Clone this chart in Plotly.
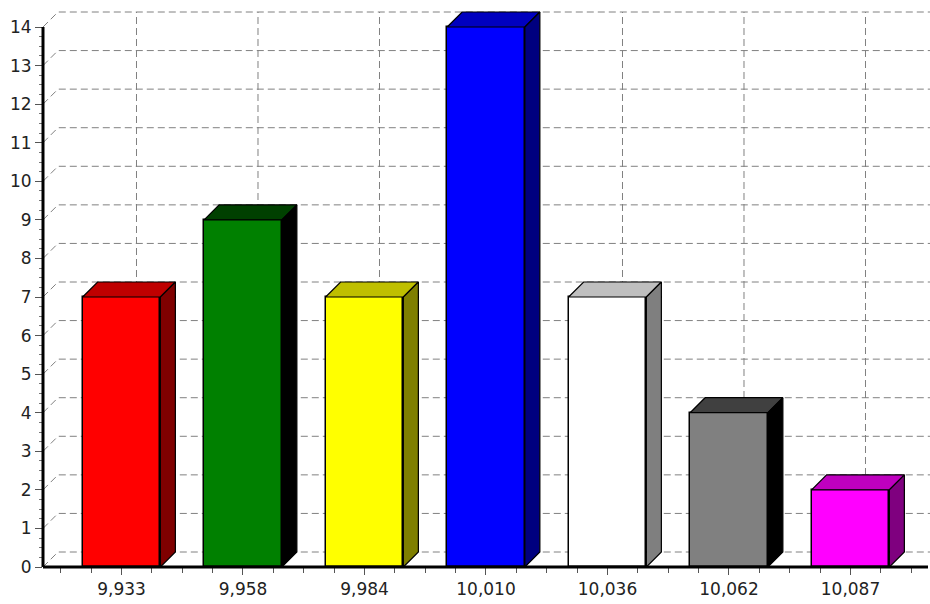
import plotly.graph_objects as go

# ---- data ----
categories = ["9,933", "9,958", "9,984", "10,010", "10,036", "10,062", "10,087"]
values = [7, 9, 7, 14, 7, 4, 2]
front_colors = ["#FF0000", "#008000", "#FFFF00", "#0000FF", "#FFFFFF", "#808080", "#FF00FF"]
top_colors = ["#BF0000", "#004000", "#BFBF00", "#0000BF", "#BFBFBF", "#404040", "#BF00BF"]
side_colors = ["#7F0000", "#000000", "#7F7F00", "#00007F", "#7F7F7F", "#000000", "#7F007F"]
y_ticks = list(range(0, 15))
y_max = 14

# ---- layout geometry ----
W, H = 930, 604
L, R, T, B = 43, 0, 0, 37
plot_w = W - L - R
plot_h = H - T - B
cat_px = 121.5                      # pixels per category
y_px = 540 / y_max                  # pixels per y unit
x_lo = -0.646
x_hi = x_lo + plot_w / cat_px
y_hi = plot_h / y_px
DX = 15 / cat_px                    # depth offset in x units
DY = 15 / y_px                      # depth offset in y units
BW = 0.64                           # bar width
idx = list(range(len(categories)))

fig = go.Figure()

# front faces
fig.add_trace(go.Bar(
    x=idx, y=values, width=BW,
    marker=dict(color=front_colors, line=dict(color="black", width=1.5)),
    hoverinfo="skip", showlegend=False,
))

# top and side faces
for i, v in enumerate(values):
    xl, xr = i - BW / 2, i + BW / 2
    fig.add_trace(go.Scatter(
        x=[xl, xl + DX, xr + DX, xr, xl], y=[v, v + DY, v + DY, v, v],
        fill="toself", fillcolor=top_colors[i], mode="lines",
        line=dict(color="black", width=1.2), hoverinfo="skip", showlegend=False,
    ))
    fig.add_trace(go.Scatter(
        x=[xr, xr + DX, xr + DX, xr, xr], y=[0, DY, v + DY, v, 0],
        fill="toself", fillcolor=side_colors[i], mode="lines",
        line=dict(color="black", width=1.2), hoverinfo="skip", showlegend=False,
    ))

shapes = []
grid = dict(color="#808080", width=1, dash="7px,4px")
for v in y_ticks:
    shapes.append(dict(
        type="path", xref="x", yref="y", layer="below",
        path=f"M {x_lo},{v} L {x_lo + DX},{v + DY} L {x_hi + 1},{v + DY}",
        line=grid,
    ))
for i in idx:
    shapes.append(dict(
        type="line", xref="x", yref="y", layer="below",
        x0=i + DX, x1=i + DX, y0=DY, y1=y_max + DY, line=grid,
    ))
# axis lines (front plane)
shapes.append(dict(type="line", xref="paper", yref="y", x0=0, x1=0, y0=0, y1=y_max,
                   line=dict(color="black", width=3), layer="above"))
shapes.append(dict(type="line", xref="x", yref="paper", x0=x_lo, x1=x_lo + 885 / cat_px,
                   y0=0, y1=0, line=dict(color="black", width=3), layer="above"))

font = dict(family="DejaVu Sans", size=17, color="#222222")
fig.update_layout(
    width=W, height=H,
    margin=dict(l=L, r=R, t=T, b=B, pad=0),
    paper_bgcolor="white", plot_bgcolor="white",
    shapes=shapes, bargap=0, showlegend=False,
    xaxis=dict(
        range=[x_lo, x_hi], tickmode="array", tickvals=idx, ticktext=categories,
        showgrid=False, zeroline=False, showline=False,
        ticks="outside", ticklen=7, tickwidth=1, tickcolor="#555555",
        tickfont=font, fixedrange=True,
        minor=dict(dtick=0.25, tick0=0, ticks="outside", ticklen=5, tickwidth=1,
                   tickcolor="#555555", showgrid=False),
    ),
    yaxis=dict(
        range=[0, y_hi], tickmode="array", tickvals=y_ticks,
        showgrid=False, zeroline=False, showline=False,
        ticks="outside", ticklen=7, tickwidth=1, tickcolor="#555555",
        tickfont=font, fixedrange=True,
        minor=dict(tickmode="array", tickvals=[k / 4 for k in range(0, 4 * y_max + 1)],
                   ticks="outside", ticklen=3, tickwidth=1, tickcolor="#777777",
                   showgrid=False),
    ),
)

fig.write_html("out.html")
